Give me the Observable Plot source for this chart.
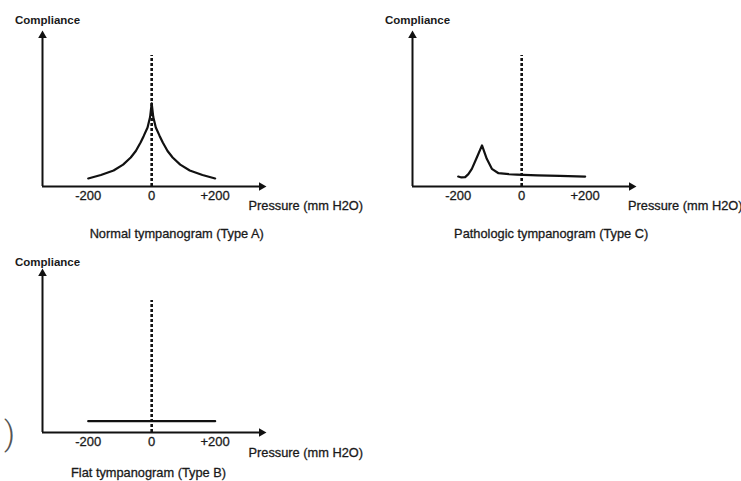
<!DOCTYPE html>
<html>
<head>
<meta charset="utf-8">
<script src="https://cdn.jsdelivr.net/npm/d3@7"></script>
<script src="https://cdn.jsdelivr.net/npm/@observablehq/plot@0.6"></script>
<style>
html, body { margin: 0; padding: 0; background: #fff; }
#chart { position: relative; width: 741px; height: 481px; overflow: hidden; background: #fff; }
#chart svg { position: absolute; overflow: visible; }
</style>
</head>
<body>
<div id="chart"></div>
<script>
// ---- data ----
const tickValues = [-200, 0, 200];
const tickLabels = ["-200", "0", "+200"];
const axisLabelX = "Pressure (mm H2O)";
const axisLabelY = "Compliance";
const titleA = "Normal tympanogram (Type A)";
const titleC = "Pathologic tympanogram (Type C)";
const titleB = "Flat tympanogram (Type B)";
const strayText = ")";

// Type A: normal, peaked at 0
const typeAPressure   = [-200, -160, -120, -90, -66, -50, -35, -25, -13, -5, 0, 5, 13, 25, 35, 50, 66, 90, 120, 160, 200];
const typeACompliance = [5.3, 7.6, 10.6, 14.5, 19.2, 23.5, 29.1, 33.5, 39.1, 46, 55, 46, 39.1, 33.5, 29.1, 23.5, 19.2, 14.5, 10.6, 7.6, 5.3];

// Type C: peak shifted to negative pressure
const typeCPressure   = [-200, -190, -178, -168, -157, -141, -125, -110, -94, -73, -40, -15, 50, 120, 200];
const typeCCompliance = [6.6, 6.0, 6.2, 8.2, 11.7, 19.4, 27.2, 18.3, 11.7, 8.8, 8.2, 7.9, 7.4, 7.0, 6.6];

// Type B: flat
const typeBPressure   = [-200, 200];
const typeBCompliance = [7.1, 7.1];

// dashed reference line heights (compliance units)
const dashTopA = 86.8, dashTopC = 86.8, dashTopB = 83;

// ---- drawing ----
const X0 = -344, X1 = 346, Y1 = 100;
const ink = "#111";
const textInk = "#1a1a1a";
const heavy = {fill: textInk, stroke: textInk, strokeWidth: 0.3};

function panel(cfg) {
  const data = cfg.pressure.map((p, i) => ({p, c: cfg.compliance[i]}));
  const svg = Plot.plot({
    width: cfg.width,
    height: cfg.height,
    marginLeft: 42,
    marginRight: cfg.width - 42 - 219,
    marginTop: cfg.marginTop,
    marginBottom: cfg.marginBottom,
    x: {domain: [X0, X1], axis: null},
    y: {domain: [0, Y1], axis: null},
    style: {fontFamily: '"Liberation Sans", Arial, sans-serif', color: textInk, background: "transparent", overflow: "visible"},
    marks: [
      Plot.line(data, {x: "p", y: "c", stroke: ink, strokeWidth: 2.2, curve: "linear"}),
      Plot.ruleX([0], {y1: 0, y2: cfg.dashTop, stroke: ink, strokeWidth: 2.6, strokeDasharray: "3 2"}),
      Plot.ruleY([0], {x1: X0, x2: X1, stroke: ink, strokeWidth: 2}),
      Plot.ruleX([X0], {y1: 0, y2: Y1, stroke: ink, strokeWidth: 2}),
      Plot.dot([X1], {x: d => d, y: 0, symbol: "triangle", r: 3.2, rotate: 90, fill: ink, stroke: null}),
      Plot.dot([Y1], {x: X0, y: d => d, symbol: "triangle", r: 3.2, fill: ink, stroke: null}),
      Plot.text(tickValues, {x: d => d, y: 0, text: (d, i) => tickLabels[i], dy: 9, fontSize: 13, lineAnchor: "middle", textAnchor: "middle", ...heavy}),
      Plot.text([axisLabelY], {x: X0, y: cfg.labelY, text: d => d, dx: 5, fontSize: 11.5, fontWeight: "bold", lineAnchor: "middle", textAnchor: "middle", fill: textInk}),
      Plot.text([axisLabelX], {x: cfg.pressX, y: 0, text: d => d, dy: cfg.pressDy, fontSize: 12.8, lineAnchor: "middle", textAnchor: "start", ...heavy}),
      Plot.text([cfg.title], {x: cfg.titleX, y: 0, text: d => d, dy: cfg.titleDy, fontSize: 12.8, lineAnchor: "middle", textAnchor: "middle", ...heavy}),
      ...(cfg.extra || [])
    ]
  });
  svg.style.left = cfg.left + "px";
  svg.style.top = cfg.top + "px";
  document.getElementById("chart").appendChild(svg);
}

// Type A (top left)
panel({
  pressure: typeAPressure, compliance: typeACompliance, title: titleA, dashTop: dashTopA,
  left: 0, top: 0, width: 370, height: 250, marginTop: 35, marginBottom: 64,
  labelY: 110, pressX: 305, pressDy: 19, titleX: 79, titleDy: 47
});

// Type C (top right)
panel({
  pressure: typeCPressure, compliance: typeCCompliance, title: titleC, dashTop: dashTopC,
  left: 370, top: 0, width: 371, height: 250, marginTop: 35, marginBottom: 64,
  labelY: 110, pressX: 335, pressDy: 19, titleX: 93, titleDy: 47
});

// Type B (bottom left)
panel({
  pressure: typeBPressure, compliance: typeBCompliance, title: titleB, dashTop: dashTopB,
  left: 0, top: 240, width: 370, height: 241, marginTop: 33, marginBottom: 49,
  labelY: 107, pressX: 305, pressDy: 20, titleX: -10, titleDy: 40,
  extra: [
    Plot.text([strayText], {x: -430, y: -1.3, text: d => d, fontSize: 34, fontWeight: 300, fontFamily: "Roboto, sans-serif", fill: "#555", textAnchor: "end", lineAnchor: "middle"})
  ]
});
</script>
</body>
</html>
